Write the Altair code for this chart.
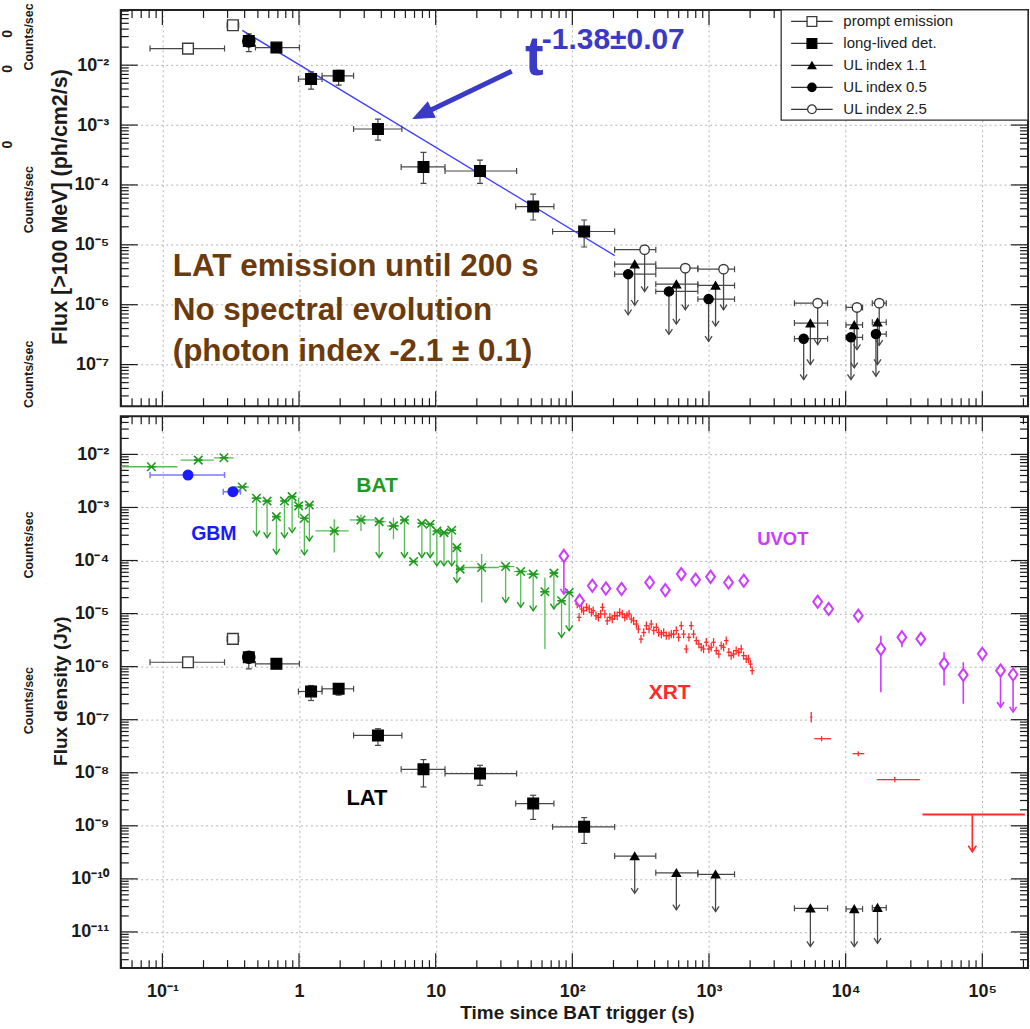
import altair as alt
import pandas as pd

FONT = "Liberation Sans"
INK = "#1b1b1b"
GRID = "#b4b4b4"
BAR_GRAY = "#474747"
GREEN = "#1f9a1f"
GREEN_LT = "#55bb55"
BLUE = "#1a1aff"
BLUE_LT = "#7a7aff"
MAGENTA = "#cc3cff"
RED = "#ff2a2a"
BROWN = "#6b3b0e"
FIT_BLUE = "#3d3dff"
NOTE_BLUE = "#3a3ac8"

# plot-area sizes (px)
W, H_TOP, H_BOT = 909, 397, 553

# axis ranges
T_RANGE = [0.0496, 2.16e5]
F_TOP_RANGE = [2.02e-8, 0.0835]
F_BOT_RANGE = [2.08e-12, 0.0525]

# ---------------- LAT photon flux > 100 MeV (upper panel) ----------------
prompt_t = [0.154, 0.328]
prompt_tlo = [0.0812, 0.298]
prompt_thi = [0.285, 0.362]
prompt_flux = [0.0189, 0.0464]
prompt_flux_lo = [0.0176, 0.0425]
prompt_flux_hi = [0.0203, 0.0505]

lived_t = [0.429, 0.683, 1.225, 1.949, 3.78, 8.14, 21.1, 51.7, 122.0]
lived_tlo = [0.405, 0.480, 0.990, 1.474, 2.507, 5.59, 11.7, 38.5, 71.7]
lived_thi = [0.455, 1.006, 1.474, 2.507, 5.66, 11.7, 39.1, 73.3, 204.0]
lived_flux = [0.0254, 0.0197, 5.85e-3, 6.64e-3, 8.6e-4, 2.0e-4, 1.71e-4, 4.35e-5, 1.67e-5]
lived_flux_lo = [0.0168, 0.0172, 3.98e-3, 4.64e-3, 5.6e-4, 1.06e-4, 1.06e-4, 2.6e-5, 9.2e-6]
lived_flux_hi = [0.0335, 0.0225, 7.73e-3, 8.2e-3, 1.26e-3, 3.5e-4, 2.6e-4, 7.0e-5, 2.6e-5]

# power-law decay fit, F = norm * t^index
fit_index = -1.38
fit_norm = 0.0102
fit_t = [0.384, 204.0]

# upper-limit time bins
ul_tlo = [204, 408, 829, 4220, 10060, 15670]
ul_thi = [408, 829, 1538, 7380, 13300, 19820]
ul11_t = [286, 577, 1117, 5520, 11560, 17110]
ul11_flux = [4.75e-6, 2.2e-6, 2.1e-6, 4.93e-7, 4.6e-7, 5.1e-7]
ul11_tip = [9.8e-7, 4.75e-7, 4.4e-7, 1.0e-7, 8.8e-8, 1.0e-7]
ul05_t = [256, 509, 993, 4930, 10940, 16660]
ul05_flux = [3.24e-6, 1.67e-6, 1.24e-6, 2.71e-7, 2.85e-7, 3.24e-7]
ul05_tip = [6.8e-7, 3.2e-7, 2.45e-7, 5.6e-8, 5.6e-8, 6.4e-8]
ul25_t = [338, 671, 1278, 6240, 12100, 17610]
ul25_flux = [8.3e-6, 4.07e-6, 3.92e-6, 1.06e-6, 9.0e-7, 1.06e-6]
ul25_tip = [1.66e-6, 8.2e-7, 8.2e-7, 2.15e-7, 1.78e-7, 2.1e-7]

# ---------------- flux density light curves (lower panel, Jy) ----------------
lat_prompt_fd = [1.21e-6, 3.33e-6]
lat_prompt_fd_lo = [1.1e-6, 2.95e-6]
lat_prompt_fd_hi = [1.33e-6, 3.75e-6]
lat_lived_fd = [1.50e-6, 1.13e-6, 3.40e-7, 3.82e-7, 5.06e-8, 1.16e-8, 9.64e-9, 2.63e-9, 9.55e-10]
lat_lived_fd_lo = [9.1e-7, 1.0e-6, 2.3e-7, 2.9e-7, 3.28e-8, 5.4e-9, 5.8e-9, 1.32e-9, 4.66e-10]
lat_lived_fd_hi = [1.86e-6, 1.25e-6, 4.4e-7, 4.7e-7, 6.76e-8, 1.77e-8, 1.38e-8, 3.77e-9, 1.43e-9]
lat_ul_fd = [2.69e-10, 1.30e-10, 1.22e-10, 2.79e-11, 2.71e-11, 2.87e-11]
lat_ul_tip = [5.35e-11, 2.6e-11, 2.41e-11, 5.3e-12, 5.3e-12, 6.1e-12]

gbm_t = [0.154, 0.328]
gbm_tlo = [0.0812, 0.279]
gbm_thi = [0.285, 0.373]
gbm_fd = [4.08e-3, 1.98e-3]

bat_t = [0.0831, 0.183, 0.282, 0.384, 0.488, 0.584, 0.683, 0.782, 0.890, 0.994, 1.094,
         1.19, 1.81, 2.84, 3.86, 4.91, 5.91, 6.88, 7.92, 9.11, 10.2, 11.5, 13.1, 14.3,
         15.1, 21.7, 32.5, 41.9, 51.7, 63.0, 73.3, 83.4, 94.8]
bat_tlo = [0.05, 0.136, 0.238, 0.333, 0.45, 0.54, 0.64, 0.74, 0.84, 0.95, 1.05,
           1.14, 1.318, 2.35, 3.65, 4.4, 5.5, 6.4, 7.4, 8.6, 9.7, 10.9, 12.3, 13.8,
           14.8, 15.4, 29.0, 37.5, 46.5, 58.0, 68.5, 79.0, 89.0]
bat_thi = [0.1287, 0.238, 0.333, 0.429, 0.53, 0.63, 0.73, 0.83, 0.94, 1.04, 1.14,
           1.25, 2.305, 3.63, 4.3, 5.4, 6.3, 7.3, 8.5, 9.6, 10.8, 12.2, 13.7, 14.7,
           15.4, 29.0, 37.5, 46.5, 57.5, 68.0, 78.5, 88.5, 101.0]
bat_fd = [5.85e-3, 7.81e-3, 8.63e-3, 2.43e-3, 1.49e-3, 1.32e-3, 6.71e-4, 1.32e-3, 1.60e-3,
          1.07e-3, 6.26e-4, 1.11e-3, 3.61e-4, 5.82e-4, 5.41e-4, 4.49e-4, 5.82e-4, 9.57e-5,
          5.04e-4, 4.83e-4, 3.61e-4, 3.36e-4, 3.72e-4, 1.75e-4, 6.89e-5, 7.38e-5, 7.71e-5,
          6.21e-5, 5.55e-5, 2.58e-5, 5.79e-5, 1.75e-5, 2.50e-5]
# lower end of each vertical segment (error bar bottom, or arrow tip for limits)
bat_fd_lo = [5.85e-3, 7.81e-3, 8.63e-3, 2.43e-3, 2.91e-4, 2.70e-4, 1.32e-4, 2.70e-4, 3.36e-4,
             6.4e-4, 1.28e-4, 2.34e-4, 1.41e-4, 3.6e-4, 1.14e-4, 2.52e-4, 1.14e-4, 9.57e-5,
             1.14e-4, 1.14e-4, 7.94e-5, 7.94e-5, 7.94e-5, 3.85e-5, 6.89e-5, 1.62e-5, 1.62e-5,
             1.31e-5, 1.13e-5, 2.16e-6, 1.22e-5, 3.56e-6, 4.76e-6]
bat_fd_hi = [5.85e-3, 7.81e-3, 8.63e-3, 2.43e-3, 1.49e-3, 1.32e-3, 6.71e-4, 1.32e-3, 1.60e-3,
             1.52e-3, 6.26e-4, 1.11e-3, 6.0e-4, 7.4e-4, 5.41e-4, 6.4e-4, 5.82e-4, 9.57e-5,
             5.04e-4, 4.83e-4, 3.61e-4, 3.36e-4, 3.72e-4, 1.75e-4, 6.89e-5, 1.32e-4, 7.71e-5,
             6.21e-5, 5.55e-5, 4.79e-5, 5.79e-5, 1.75e-5, 2.50e-5]
bat_limit = [0, 0, 0, 0, 1, 1, 1, 1, 1, 0, 1, 1, 0, 0, 1, 0, 1, 0, 1, 1, 1, 1, 1, 1,
             0, 0, 1, 1, 1, 0, 1, 1, 1]

xrt_t = [108.5, 112, 117, 121, 127, 133, 138, 142, 149, 155, 161, 166, 173, 180, 188,
         196, 204, 213, 222, 232, 242, 251, 260, 270, 281, 294, 304, 318, 333, 348,
         364, 378, 394, 412, 428, 448, 466, 487, 510, 530, 551, 576, 599, 627, 652,
         682, 713, 741, 771, 807, 843, 877, 912, 955, 998, 1038, 1080, 1130, 1181, 1228,
         1279, 1337, 1397, 1453, 1513, 1581, 1652, 1721, 1791, 1871, 1945, 2012, 2070]
xrt_fd = [1.51e-5, 8.5e-6, 1.22e-5, 1.13e-5, 1.31e-5, 1.22e-5, 1.05e-5, 1.13e-5, 9.1e-6, 8.5e-6,
          9.8e-6, 1.31e-5, 9.8e-6, 7.3e-6, 8.5e-6, 7.9e-6, 9.1e-6, 9.1e-6, 1.05e-5, 9.8e-6,
          8.5e-6, 9.1e-6, 9.8e-6, 7.9e-6, 7.3e-6, 6.35e-6, 5.1e-6, 3.3e-6, 4.4e-6, 5.9e-6,
          5.1e-6, 6.35e-6, 4.8e-6, 5.5e-6, 4.4e-6, 4.1e-6, 4.4e-6, 3.84e-6, 3.84e-6, 4.1e-6,
          4.1e-6, 4.8e-6, 3.57e-6, 5.9e-6, 4.1e-6, 2.15e-6, 3.57e-6, 5.9e-6, 4.1e-6, 3.09e-6,
          2.67e-6, 2.32e-6, 2.15e-6, 2.88e-6, 2.15e-6, 2.32e-6, 2.88e-6, 2.0e-6, 1.73e-6, 2.49e-6,
          2.32e-6, 3.09e-6, 1.87e-6, 1.61e-6, 1.73e-6, 2.0e-6, 1.87e-6, 2.15e-6, 1.61e-6, 1.40e-6,
          1.40e-6, 1.12e-6, 8.4e-7]
XRT_REL_ERR = 1.2
xrt_late_t = [5600, 6670, 12360, 22900]
xrt_late_tlo = [5500, 5900, 11250, 16900]
xrt_late_thi = [5700, 7820, 13680, 34900]
xrt_late_fd = [1.12e-7, 4.38e-8, 2.29e-8, 7.43e-9]
xrt_late_fd_lo = [8.9e-8, 3.9e-8, 2.05e-8, 6.6e-9]
xrt_late_fd_hi = [1.4e-7, 4.9e-8, 2.55e-8, 8.4e-9]
xrt_limit_t = [84500]
xrt_limit_tlo = [36500]
xrt_limit_thi = [205000]
xrt_limit_fd = [1.63e-9]
xrt_limit_tip = [3.24e-10]

uvot_t = [113, 140, 176, 229, 368, 479, 627, 798, 1027, 1390, 1798, 6240, 7510, 12370,
          18100, 25800, 35500, 52500, 72600, 100000]
uvot_fd = [1.75e-5, 3.34e-5, 2.97e-5, 2.90e-5, 3.85e-5, 2.77e-5, 5.55e-5, 4.34e-5, 4.93e-5,
           3.85e-5, 4.15e-5, 1.67e-5, 1.22e-5, 9.12e-6, 2.16e-6, 3.56e-6, 3.33e-6, 1.13e-6,
           7.0e-7, 1.74e-6]
uvot_fd_lo = [1.6e-5, 3.1e-5, 2.75e-5, 2.7e-5, 3.6e-5, 2.6e-5, 5.2e-5, 4.05e-5, 4.6e-5,
              3.6e-5, 3.9e-5, 1.55e-5, 1.13e-5, 8.4e-6, 3.3e-7, 2.33e-6, 2.5e-6, 4.4e-7,
              2.0e-7, 1.55e-6]
uvot_fd_hi = [1.9e-5, 3.6e-5, 3.2e-5, 3.1e-5, 4.1e-5, 2.95e-5, 5.9e-5, 4.6e-5, 5.3e-5,
              4.1e-5, 4.45e-5, 1.8e-5, 1.32e-5, 9.9e-6, 3.84e-6, 4.76e-6, 4.4e-6, 1.87e-6,
              1.21e-6, 1.95e-6]
uvot_limit_t = [86.7, 136000, 168000]
uvot_limit_fd = [1.22e-4, 8.43e-7, 7.1e-7]
uvot_limit_tip = [2.33e-5, 1.72e-7, 1.39e-7]

legend_labels = ["prompt emission", "long-lived det.", "UL index 1.1", "UL index 0.5", "UL index 2.5"]

# ---------------- helpers ----------------
SUP = str.maketrans("-0123456789", "\u207b\u2070\u00b9\u00b2\u00b3\u2074\u2075\u2076\u2077\u2078\u2079")


def power_label(n):
    if n == 0:
        return "1"
    if n == 1:
        return "10"
    return "10" + str(n).translate(SUP)


def label_expr(exps):
    e = "round(log(datum.value) / LN10)"
    expr = "''"
    for n in exps:
        expr = f"{e} == {n} ? '{power_label(n)}' : ({expr})"
    return expr


def decades(exps):
    return [float(f"1e{n}") for n in exps]


def log_ticks(lo, hi):
    major, minor = [], []
    for n in range(-13, 7):
        for k in range(1, 10):
            v = float(f"{k}e{n}")
            if lo <= v <= hi:
                (major if k == 1 else minor).append(v)
    return major, minor


xs = alt.Scale(type="log", domain=T_RANGE, nice=False)
ONE = pd.DataFrame({"k": [0]})

V_HEAD = "M-1,-1.5L0,0L1,-1.5"
CAP_V = "M0,-1L0,1"
CAP_H = "M-1,0L1,0"


class Panel:
    def __init__(self, y_range, height):
        self.y_range = y_range
        self.ys = alt.Scale(type="log", domain=y_range, nice=False)
        self.h = height
        self.layers = []

    # data layers leave the axis unspecified; the tick layer carries the explicit axis
    def X(self, f):
        return alt.X(f"{f}:Q", scale=xs)

    def Y(self, f):
        return alt.Y(f"{f}:Q", scale=self.ys)

    def add(self, ch):
        self.layers.append(ch)

    def frame(self, x_axis, y_axis):
        xmaj, xmin = log_ticks(*T_RANGE)
        ymaj, ymin = log_ticks(*self.y_range)
        first = True
        for vals, L in ((xmaj, 15), (xmin, 8)):
            d = pd.DataFrame({"v": vals})
            for y0, y1 in ((self.h, self.h - L), (0, L)):
                ax = alt.X("v:Q", scale=xs, axis=x_axis) if first else alt.X("v:Q", scale=xs)
                self.add(alt.Chart(d).mark_rule(color=INK, strokeWidth=1.2)
                         .encode(x=ax, y=alt.value(y0), y2=alt.value(y1)))
                first = False
        first = True
        for vals, L in ((ymaj, 17), (ymin, 8)):
            d = pd.DataFrame({"v": vals})
            for x0, x1 in ((0, L), (W, W - L)):
                ay = alt.Y("v:Q", scale=self.ys, axis=y_axis) if first else alt.Y("v:Q", scale=self.ys)
                self.add(alt.Chart(d).mark_rule(color=INK, strokeWidth=1.2)
                         .encode(y=ay, x=alt.value(x0), x2=alt.value(x1)))
                first = False

    def hbars(self, df, color, sw=1.2, caps=True, y="f"):
        self.add(alt.Chart(df).mark_rule(color=color, strokeWidth=sw, clip=True)
                 .encode(x=self.X("tlo"), x2=alt.X2("thi:Q"), y=self.Y(y)))
        if caps:
            for c in ("tlo", "thi"):
                self.add(alt.Chart(df).mark_point(shape=CAP_V, size=36, filled=False, color=color,
                                                  strokeWidth=sw, opacity=1, clip=True)
                         .encode(x=self.X(c), y=self.Y(y)))

    def vbars(self, df, color, lo="flo", hi="fhi", sw=1.2, caps=True):
        self.add(alt.Chart(df).mark_rule(color=color, strokeWidth=sw, clip=True)
                 .encode(x=self.X("t"), y=self.Y(lo), y2=alt.Y2(f"{hi}:Q")))
        if caps:
            for c in (lo, hi):
                self.add(alt.Chart(df).mark_point(shape=CAP_H, size=36, filled=False, color=color,
                                                  strokeWidth=sw, opacity=1, clip=True)
                         .encode(x=self.X("t"), y=self.Y(c)))

    def limits(self, df, color, sw=1.3, head=49, tip="tip"):
        self.add(alt.Chart(df).mark_rule(color=color, strokeWidth=sw, clip=True)
                 .encode(x=self.X("t"), y=self.Y("f"), y2=alt.Y2(f"{tip}:Q")))
        self.add(alt.Chart(df).mark_point(shape=V_HEAD, size=head, filled=False, color=color,
                                          strokeWidth=sw, opacity=1, clip=True)
                 .encode(x=self.X("t"), y=self.Y(tip)))

    def markers(self, df, shape, size, fill=None, stroke=None, color=None, sw=1.3, y="f"):
        kw = dict(shape=shape, size=size, strokeWidth=sw, opacity=1, clip=True)
        if color is not None:
            kw.update(filled=False, color=color)
        else:
            kw.update(filled=True, fill=fill, stroke=stroke)
        self.add(alt.Chart(df).mark_point(**kw).encode(x=self.X("t"), y=self.Y(y)))

    def ptext(self, txt, x, y, **kw):
        self.add(alt.Chart(ONE).mark_text(text=txt, font=FONT, **kw)
                 .encode(x=alt.value(x), y=alt.value(y)))

    def dtext(self, txt, t, f, **kw):
        d = pd.DataFrame({"t": [t], "f": [f]})
        self.add(alt.Chart(d).mark_text(text=txt, font=FONT, fontWeight="bold", **kw)
                 .encode(x=self.X("t"), y=self.Y("f")))

    def chart(self):
        return alt.layer(*self.layers).properties(width=W, height=self.h)


def x_axis(show):
    kw = dict(values=decades(range(-1, 6)), grid=True, gridColor=GRID, gridDash=[2, 3], gridWidth=1,
              ticks=False, domain=False, labels=show, title="")
    if show:
        kw.update(labelExpr=label_expr(range(-1, 6)), labelFont=FONT, labelFontSize=18,
                  labelFontWeight="bold", labelColor=INK, labelPadding=14, labelOverlap=False,
                  labelFlush=False, title="Time since BAT trigger (s)", titleFont=FONT,
                  titleFontSize=19, titleFontWeight="bold", titleColor=INK, titleX=457, titleY=50,
                  titleAlign="center", titleBaseline="alphabetic")
    return alt.Axis(**kw)


def y_axis(exps, title, title_y, title_size):
    return alt.Axis(values=decades(exps), grid=True, gridColor=GRID, gridDash=[2, 3], gridWidth=1,
                    ticks=False, domain=False, labelExpr=label_expr(exps), labelFont=FONT,
                    labelFontSize=18, labelFontWeight="bold", labelColor=INK, labelPadding=12,
                    labelOverlap=False, title=title, titleFont=FONT, titleFontSize=title_size,
                    titleFontWeight="bold", titleColor=INK, titleX=-60, titleY=title_y, titleAngle=270,
                    titleAlign="center", titleBaseline="middle")


def side_labels(panel, counts_y, zero_y=()):
    for yy in counts_y:
        panel.ptext("Counts/sec", -92, yy, angle=270, fontSize=12.5, fontWeight="bold", color=INK)
    for yy in zero_y:
        panel.ptext("0", -112.5, yy, angle=270, fontSize=14, fontWeight="bold", color=INK)


# ---------------- upper panel ----------------
top = Panel(F_TOP_RANGE, H_TOP)
top.frame(x_axis(False), y_axis(range(-7, -1), "Flux [>100 MeV] (ph/cm2/s)", 197, 21.5))
# anchor for the outer layout edge
top.add(alt.Chart(ONE).mark_rule(strokeOpacity=0, strokeWidth=1)
        .encode(x=alt.value(-119.5), x2=alt.value(-118), y=alt.value(-7.5), y2=alt.value(-6)))
side_labels(top, [27, 190, 365], [24, 59, 135])

fit_df = pd.DataFrame({"t": fit_t, "f": [fit_norm * t ** fit_index for t in fit_t]})
top.add(alt.Chart(fit_df).mark_line(color=FIT_BLUE, strokeWidth=1.4, clip=True)
        .encode(x=top.X("t"), y=top.Y("f")))

prompt_top = pd.DataFrame(dict(t=prompt_t, tlo=prompt_tlo, thi=prompt_thi, f=prompt_flux,
                               flo=prompt_flux_lo, fhi=prompt_flux_hi))
lived_top = pd.DataFrame(dict(t=lived_t, tlo=lived_tlo, thi=lived_thi, f=lived_flux,
                              flo=lived_flux_lo, fhi=lived_flux_hi))
ul11_top = pd.DataFrame(dict(t=ul11_t, tlo=ul_tlo, thi=ul_thi, f=ul11_flux, tip=ul11_tip))
ul05_top = pd.DataFrame(dict(t=ul05_t, tlo=ul_tlo, thi=ul_thi, f=ul05_flux, tip=ul05_tip))
ul25_top = pd.DataFrame(dict(t=ul25_t, tlo=ul_tlo, thi=ul_thi, f=ul25_flux, tip=ul25_tip))

for d in (prompt_top, lived_top):
    top.hbars(d, BAR_GRAY)
    top.vbars(d, BAR_GRAY)
for d in (ul05_top, ul11_top, ul25_top):
    top.hbars(d, BAR_GRAY)
    top.limits(d, BAR_GRAY)

top.markers(lived_top.iloc[:1], "circle", 150, fill="black", stroke="black")
top.markers(prompt_top, "square", 115, fill="white", stroke="#3a3a3a", sw=1.4)
top.markers(lived_top, "square", 115, fill="black", stroke="black")
top.markers(ul05_top, "circle", 85, fill="black", stroke="black")
top.markers(ul11_top, "triangle-up", 70, fill="black", stroke="black")
top.markers(ul25_top, "circle", 90, fill="white", stroke="#3a3a3a", sw=1.4)

# legend box
top.add(alt.Chart(ONE).mark_rect(fill="white", stroke="#333333", strokeWidth=1.3)
        .encode(x=alt.value(661.7), x2=alt.value(W), y=alt.value(0), y2=alt.value(110.3)))
legend_marks = [("square", 95, "white", "#3a3a3a"), ("square", 95, "black", "black"),
                ("triangle-up", 60, "black", "black"), ("circle", 70, "black", "black"),
                ("circle", 75, "white", "#3a3a3a")]
for i, (lab, (shp, sz, fl, st)) in enumerate(zip(legend_labels, legend_marks)):
    yy = 11.5 + 22 * i
    top.add(alt.Chart(ONE).mark_rule(color="#333333", strokeWidth=1.2)
            .encode(x=alt.value(671.7), x2=alt.value(713.3), y=alt.value(yy)))
    top.add(alt.Chart(ONE).mark_point(shape=shp, size=sz, filled=True, fill=fl, stroke=st,
                                      strokeWidth=1.3, opacity=1)
            .encode(x=alt.value(692.5), y=alt.value(yy)))
    top.ptext(lab, 724, yy, align="left", baseline="middle", fontSize=15, color="#222222")

# fit annotation and arrow
arrow_df = pd.DataFrame({"t": [36.0], "f": [7.94e-3], "t2": [8.24], "f2": [1.57e-3]})
top.add(alt.Chart(arrow_df).mark_rule(color=NOTE_BLUE, strokeWidth=5, strokeCap="butt")
        .encode(x=top.X("t"), y=top.Y("f"), x2=alt.X2("t2:Q"), y2=alt.Y2("f2:Q")))
tip_df = pd.DataFrame({"t": [6.87], "f": [1.29e-3]})
top.add(alt.Chart(tip_df).mark_point(shape="M0,0L-1,-0.42L-1,0.42Z", size=1600, filled=True,
                                     fill=NOTE_BLUE, stroke=NOTE_BLUE, strokeWidth=1, angle=154,
                                     opacity=1)
        .encode(x=top.X("t"), y=top.Y("f")))
top.dtext("t", 45.0, 6.9e-3, align="left", baseline="alphabetic", fontSize=56, color=NOTE_BLUE)
top.dtext("-1.38\u00b10.07", 59.8, 0.0187, align="left", baseline="alphabetic", fontSize=30,
          color=NOTE_BLUE)
top.dtext("LAT emission until 200 s", 0.119, 2.96e-6, align="left", baseline="alphabetic",
          fontSize=31.5, color=BROWN)
top.dtext("No spectral evolution", 0.119, 5.62e-7, align="left", baseline="alphabetic",
          fontSize=31.5, color=BROWN)
top.dtext("(photon index -2.1 \u00b1 0.1)", 0.119, 1.13e-7, align="left", baseline="alphabetic",
          fontSize=31.5, color=BROWN)

# ---------------- lower panel ----------------
bot = Panel(F_BOT_RANGE, H_BOT)
bot.frame(x_axis(True), y_axis(range(-11, -1), "Flux density (Jy)", 275, 19))
side_labels(bot, [129, 285])

bat = pd.DataFrame(dict(t=bat_t, tlo=bat_tlo, thi=bat_thi, f=bat_fd, flo=bat_fd_lo,
                        fhi=bat_fd_hi, lim=bat_limit))
bot.hbars(bat, GREEN_LT, sw=1.3, caps=False)
bot.vbars(bat, GREEN_LT, sw=1.3, caps=False)
bat_lim = bat[bat.lim == 1]
bot.add(alt.Chart(bat_lim).mark_point(shape=V_HEAD, size=49, filled=False, color=GREEN,
                                      strokeWidth=1.4, opacity=1, clip=True)
        .encode(x=bot.X("t"), y=bot.Y("flo")))
bot.markers(bat, "M-1,-1L1,1M-1,1L1,-1M-1,0L1,0", 72, color=GREEN, sw=1.6)

gbm = pd.DataFrame(dict(t=gbm_t, tlo=gbm_tlo, thi=gbm_thi, f=gbm_fd))
bot.hbars(gbm, BLUE_LT, sw=1.5)
bot.markers(gbm, "circle", 95, fill=BLUE, stroke=BLUE)

xrt = pd.DataFrame(dict(t=xrt_t, f=xrt_fd))
xrt["flo"] = xrt["f"] / XRT_REL_ERR
xrt["fhi"] = xrt["f"] * XRT_REL_ERR
bot.vbars(xrt, RED, sw=1.3, caps=False)
bot.markers(xrt, CAP_H, 20, color=RED, sw=1.3)
xrt_late = pd.DataFrame(dict(t=xrt_late_t, tlo=xrt_late_tlo, thi=xrt_late_thi, f=xrt_late_fd,
                             flo=xrt_late_fd_lo, fhi=xrt_late_fd_hi))
bot.hbars(xrt_late, RED, sw=1.3, caps=False)
bot.vbars(xrt_late, RED, sw=1.3, caps=False)
xrt_lim = pd.DataFrame(dict(t=xrt_limit_t, tlo=xrt_limit_tlo, thi=xrt_limit_thi, f=xrt_limit_fd,
                            tip=xrt_limit_tip))
bot.hbars(xrt_lim, RED, sw=2, caps=False)
bot.limits(xrt_lim, RED, sw=1.6, head=64)

uvot = pd.DataFrame(dict(t=uvot_t, f=uvot_fd, flo=uvot_fd_lo, fhi=uvot_fd_hi))
bot.vbars(uvot, MAGENTA, sw=1.6, caps=False)
uvot_lim = pd.DataFrame(dict(t=uvot_limit_t, f=uvot_limit_fd, tip=uvot_limit_tip))
bot.limits(uvot_lim, MAGENTA, sw=1.6, head=49)
DIAMOND = "M0,-1L0.72,0L0,1L-0.72,0Z"
bot.markers(uvot, DIAMOND, 150, fill="white", stroke=MAGENTA, sw=2)
bot.markers(uvot_lim, DIAMOND, 150, fill="white", stroke=MAGENTA, sw=2)

prompt_bot = pd.DataFrame(dict(t=prompt_t, tlo=prompt_tlo, thi=prompt_thi, f=lat_prompt_fd,
                               flo=lat_prompt_fd_lo, fhi=lat_prompt_fd_hi))
lived_bot = pd.DataFrame(dict(t=lived_t, tlo=lived_tlo, thi=lived_thi, f=lat_lived_fd,
                              flo=lat_lived_fd_lo, fhi=lat_lived_fd_hi))
ul_bot = pd.DataFrame(dict(t=ul11_t, tlo=ul_tlo, thi=ul_thi, f=lat_ul_fd, tip=lat_ul_tip))
for d in (prompt_bot, lived_bot):
    bot.hbars(d, BAR_GRAY)
    bot.vbars(d, BAR_GRAY)
bot.hbars(ul_bot, BAR_GRAY)
bot.limits(ul_bot, BAR_GRAY)
bot.markers(lived_bot.iloc[:1], "circle", 150, fill="black", stroke="black")
bot.markers(prompt_bot, "square", 115, fill="white", stroke="#3a3a3a", sw=1.4)
bot.markers(lived_bot, "square", 115, fill="black", stroke="black")
bot.markers(ul_bot, "triangle-up", 70, fill="black", stroke="black")

bot.dtext("BAT", 3.72, 2.54e-3, fontSize=21, color=GREEN)
bot.dtext("GBM", 0.238, 3.21e-4, fontSize=19.5, color=BLUE)
bot.dtext("UVOT", 3470, 2.52e-4, fontSize=18.5, color=MAGENTA)
bot.dtext("XRT", 515, 3.16e-7, fontSize=21, color=RED)
bot.dtext("LAT", 3.14, 3.27e-9, fontSize=22, color="black")

chart = (
    alt.vconcat(top.chart(), bot.chart(), spacing=10, bounds="flush")
    .properties(padding=0, background="white")
    .configure_view(stroke="#222222", strokeWidth=2)
)

chart.save("out.html", embed_options={"renderer": "svg", "actions": False})
